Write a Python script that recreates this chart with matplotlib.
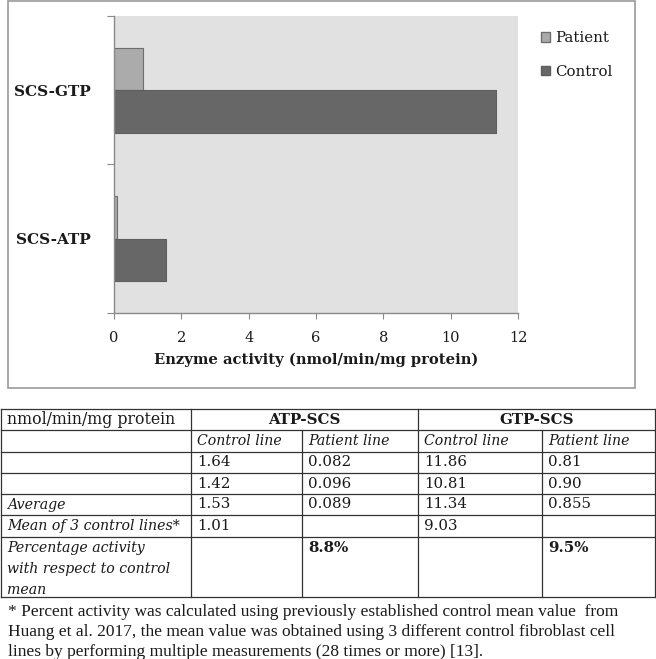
import matplotlib
matplotlib.use("Agg")
import matplotlib.pyplot as plt
from matplotlib.patches import Rectangle, Patch
from matplotlib.lines import Line2D

# chart data (average enzyme activity, nmol/min/mg protein)
categories = ["SCS-ATP", "SCS-GTP"]
patient = [0.089, 0.855]
control = [1.53, 11.34]
x_ticks = [0, 2, 4, 6, 8, 10, 12]

# table data
table_corner = "nmol/min/mg protein"
group_headers = ["ATP-SCS", "GTP-SCS"]
sub_headers = ["Control line", "Patient line", "Control line", "Patient line"]
measure_1 = ["1.64", "0.082", "11.86", "0.81"]
measure_2 = ["1.42", "0.096", "10.81", "0.90"]
average = ["1.53", "0.089", "11.34", "0.855"]
mean_3_controls = ["1.01", "", "9.03", ""]
percent_activity = ["", "8.8%", "", "9.5%"]
body_labels = ["", "", "Average", "Mean of 3 control lines*"]
percent_label = ["Percentage activity", "with respect to control", "mean"]
footnote = [
    "* Percent activity was calculated using previously established control mean value  from",
    "Huang et al. 2017, the mean value was obtained using 3 different control fibroblast cell",
    "lines by performing multiple measurements (28 times or more) [13].",
]

plt.rcParams["font.family"] = "DejaVu Serif"
W, H = 656, 659
TXT = "#1a1a1a"


def fx(x):
    return x / W


def fy(y):
    return 1 - y / H


fig = plt.figure(figsize=(W / 100, H / 100), dpi=100)

# ---- chart ----
fig.add_artist(Rectangle((fx(8), fy(388)), fx(635) - fx(8), fy(1) - fy(388),
                         transform=fig.transFigure, fill=False, ec="#9a9a9a", lw=1.2))

ax = fig.add_axes([fx(114), fy(313), fx(518) - fx(114), fy(16) - fy(313)])
ax.set_facecolor("#e1e1e1")
h = 1 / 3.5
ypos = range(len(categories))
ax.barh([y + h / 2 for y in ypos], patient, height=h, color="#ababab",
        edgecolor="#6e6e6e", lw=0.8, label="Patient")
ax.barh([y - h / 2 for y in ypos], control, height=h, color="#676767",
        edgecolor="#5e5e5e", lw=0.8, label="Control")
ax.set_xlim(0, 12)
ax.set_ylim(-0.5, len(categories) - 0.5)
for s in ["top", "right"]:
    ax.spines[s].set_visible(False)
for s in ["left", "bottom"]:
    ax.spines[s].set_color("#8a8a8a")
    ax.spines[s].set_linewidth(1.0)

ax.set_xticks(x_ticks)
ax.tick_params(axis="x", length=4, color="#8a8a8a", pad=9, labelsize=10.5, labelcolor=TXT)
ax.set_yticks([-0.5, 0.5, 1.5], ["", "", ""])
ax.tick_params(axis="y", which="major", length=5, color="#8a8a8a")
ax.set_yticks(list(ypos), categories, minor=True)
ax.tick_params(axis="y", which="minor", length=0, pad=17, labelsize=11, labelcolor=TXT)
for t in ax.get_yticklabels(minor=True):
    t.set_fontweight("bold")

ax.set_xlabel("Enzyme activity (nmol/min/mg protein)", fontweight="bold",
              fontsize=10.6, color=TXT, va="center")
ax.xaxis.set_label_coords(0.5, -(360 - 313) / (313 - 16))

handles = [Patch(facecolor="#ababab", edgecolor="#6e6e6e", label="Patient"),
           Patch(facecolor="#676767", edgecolor="#5e5e5e", label="Control")]
fig.legend(handles=handles, loc="upper left", bbox_to_anchor=(fx(527), fy(18)),
           frameon=False, fontsize=10.8, handlelength=0.6, handleheight=0.6,
           handletextpad=0.35, labelspacing=1.3, labelcolor=TXT)

# ---- table ----
hlines = [409, 430, 452, 473, 494, 515, 537, 597]
cols = [1, 191, 302, 418, 542, 655]
lc = "#333333"
for y in hlines:
    fig.add_artist(Line2D([fx(cols[0]), fx(cols[-1])], [fy(y), fy(y)], color=lc, lw=0.9))
for i, x in enumerate(cols):
    top = hlines[1] if i in (2, 4) else hlines[0]
    fig.add_artist(Line2D([fx(x), fx(x)], [fy(top), fy(hlines[-1])], color=lc, lw=0.9))

fs = 10.8
fs_it = 10.2
pad = 6


def row_mid(r):
    return (hlines[r] + hlines[r + 1]) / 2


fig.text(fx(cols[0] + pad), fy(row_mid(0)), table_corner, fontsize=11.3, va="center", color=TXT)
for g, name in enumerate(group_headers):
    xc = (cols[1 + 2 * g] + cols[3 + 2 * g]) / 2
    fig.text(fx(xc), fy(row_mid(0)), name, fontsize=fs, fontweight="bold",
             ha="center", va="center", color=TXT)
for c, name in enumerate(sub_headers):
    fig.text(fx(cols[c + 1] + pad), fy(row_mid(1)), name, fontsize=fs_it,
             style="italic", va="center", color=TXT)

body = [measure_1, measure_2, average, mean_3_controls]
for r, vals in enumerate(body):
    rr = r + 2
    if body_labels[r]:
        fig.text(fx(cols[0] + pad), fy(row_mid(rr)), body_labels[r], fontsize=fs_it,
                 style="italic", va="center", color=TXT)
    for c, v in enumerate(vals):
        fig.text(fx(cols[c + 1] + pad), fy(row_mid(rr)), v, fontsize=fs,
                 va="center", color=TXT)

line_h = 21
first = hlines[6] + 11
for k, part in enumerate(percent_label):
    fig.text(fx(cols[0] + pad), fy(first + k * line_h), part, fontsize=fs_it,
             style="italic", va="center", color=TXT)
for c, v in enumerate(percent_activity):
    if v:
        fig.text(fx(cols[c + 1] + pad), fy(first), v, fontsize=fs,
                 fontweight="bold", va="center", color=TXT)

for k, line in enumerate(footnote):
    fig.text(fx(8), fy(616 + k * 20), line, fontsize=12.5, family="Liberation Serif",
             va="baseline", color=TXT)

fig.savefig("out.png", dpi=100)
